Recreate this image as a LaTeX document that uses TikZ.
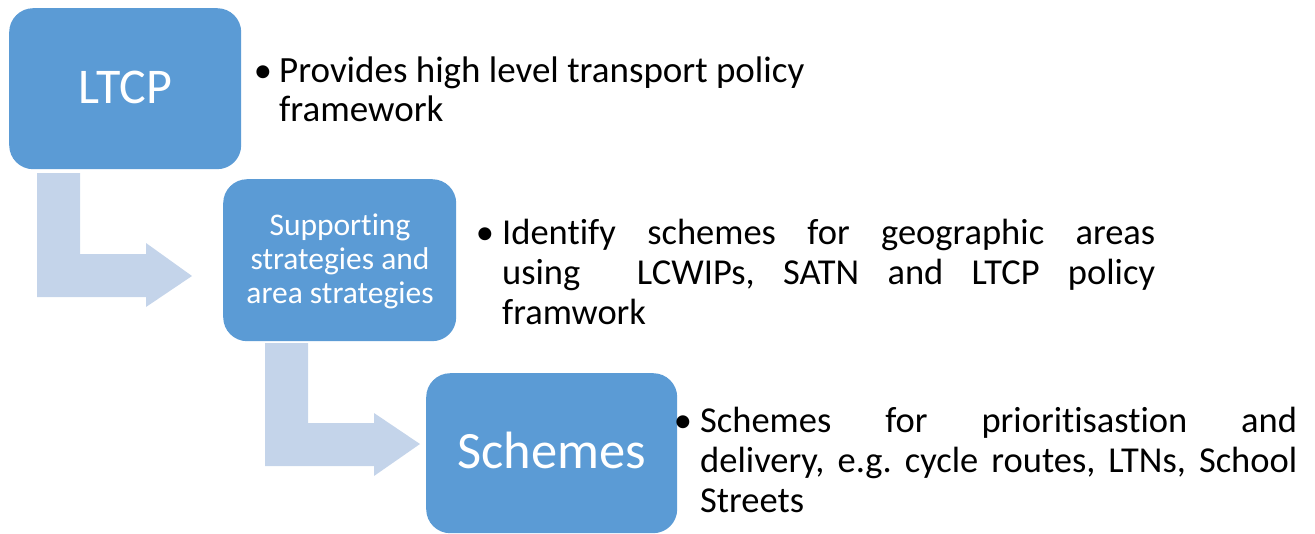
\documentclass[tikz,border=0pt]{standalone}
\usepackage{fontspec}
\setmainfont{Carlito}[Ligatures={NoCommon,NoContextual},RawFeature={-liga;-clig;-calt;-dlig}]
\definecolor{boxblue}{HTML}{5B9BD5}
\definecolor{arrowblue}{HTML}{C4D4EA}
\begin{document}
\begin{tikzpicture}[x=1pt,y=-1pt,
  stagebox/.style={rectangle, rounded corners=24pt, fill=boxblue, draw=none, inner sep=0pt},
  bentarrow/.style={fill=arrowblue, draw=none},
  boxtext/.style={text=white, inner sep=0pt, anchor=base},
  bodytext/.style={inner sep=0pt, anchor=base west, text=black},
  bulletmark/.style={inner sep=0pt, anchor=base, text=black, font=\fontsize{36.5}{40}\selectfont}]
\useasboundingbox (0,0) rectangle (1315,533);
\frenchspacing
% boxes
\node[stagebox, minimum width=232pt, minimum height=161pt, anchor=north west] (ltcp) at (9,8) {};
\node[stagebox, minimum width=233pt, minimum height=162pt, anchor=north west] (support) at (223,179) {};
\node[stagebox, minimum width=251pt, minimum height=160pt, anchor=north west] (schemes) at (426,373) {};
% bent arrows
\coordinate (a1s) at (37,173);
\fill[bentarrow] (a1s) -- ++(43,0) -- (80,254) -- (146,254) -- (146,243) -- (192,276) -- (146,307) -- (146,297) -- (37,297) -- cycle;
\coordinate (a2s) at (265,343);
\fill[bentarrow] (a2s) -- ++(43,0) -- (308,423) -- (374,423) -- (374,413) -- (420,444) -- (374,476) -- (374,466) -- (265,466) -- cycle;
% box texts
\node[boxtext, font=\fontsize{50}{56}\selectfont] (ltcpt) at (125.5,103) {LTCP};
\node[boxtext, font=\fontsize{31.5}{34}\selectfont] (supt) at (340,235) {\parbox[t]{230pt}{\centering\fontsize{31.5}{34}\selectfont Suppor{}ting\\strategies and\\area strategies}};
\node[boxtext, font=\fontsize{52.5}{58}\selectfont] (scht) at (552,468) {Schemes};
% bullets
\node[bulletmark] (b1) at (263,82) {•};
\node[bulletmark] (b2) at (485,244) {•};
\node[bulletmark] (b3) at (683,432) {•};
% body texts
\node[bodytext] (t1) at (279,82) {\parbox[t]{560pt}{\raggedright\fontsize{37}{39}\selectfont Provides high level transport policy\\framework}};
\node[bodytext] (t2) at (502,244) {\parbox[t]{653pt}{\fontsize{36.5}{40}\selectfont\sloppy\hyphenpenalty=10000 Identify schemes for geographic areas\linebreak using\ \ LCWIPs, SATN and LTCP policy\linebreak framwork}};
\node[bodytext] (t3) at (700,432) {\parbox[t]{597pt}{\fontsize{36.5}{40}\selectfont\sloppy\hyphenpenalty=10000 Schemes for priori{}tisas{}tion and\linebreak delivery, e.g. cycle routes, LTNs, School\linebreak Streets}};
\end{tikzpicture}
\end{document}
